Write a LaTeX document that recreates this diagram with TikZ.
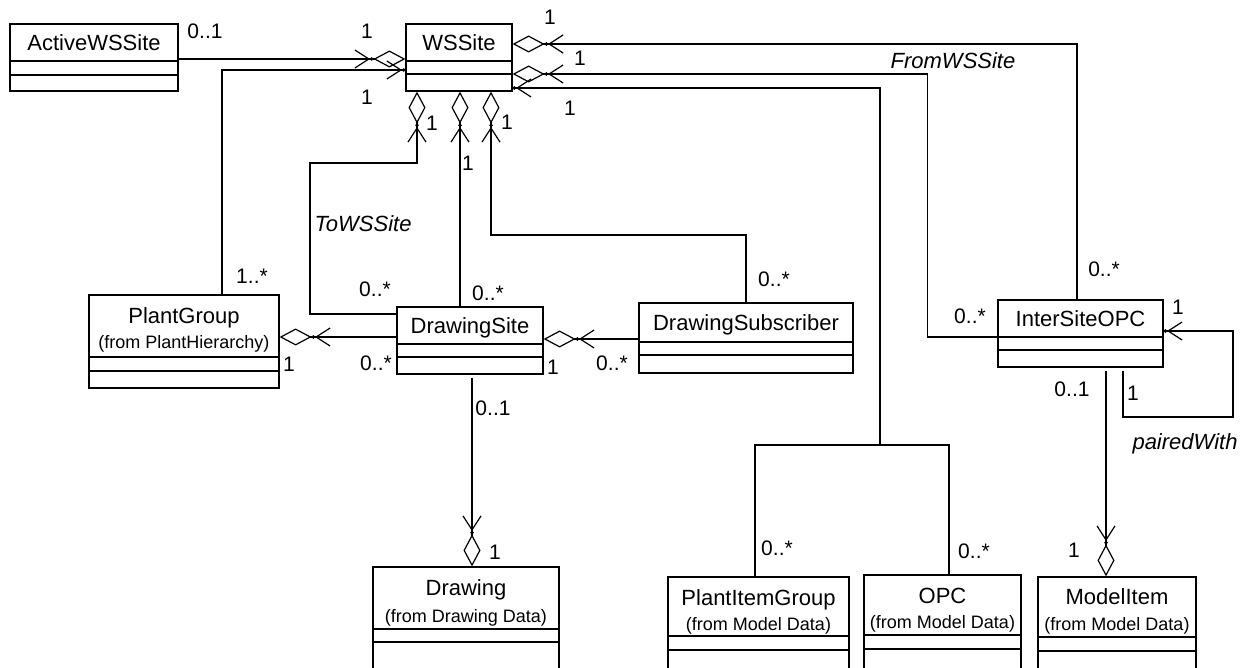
\documentclass[tikz,border=0pt]{standalone}
\usepackage{fontspec}
\setmainfont{Liberation Sans}
\usetikzlibrary{arrows.meta,fit}
\tikzset{
  cls/.style={draw, line width=1.2pt, inner sep=0pt},
  conn/.style={line width=1.2pt},
  agg/.style={conn, -{Straight Barb[length=14pt,width=18pt]Circle[length=3.4pt]Diamond[open,length=32pt,width=17pt]}},
  nav/.style={conn, -{Straight Barb[length=14pt,width=18pt]Circle[length=3.4pt]}},
  cname/.style={font=\fontsize{22}{26}\selectfont, inner sep=0pt, text height=15.8pt, text depth=0pt},
  csub/.style={font=\fontsize{18}{21}\selectfont, inner sep=0pt, text height=12.9pt, text depth=0pt},
  mult/.style={font=\fontsize{21}{24}\selectfont, inner sep=0pt, text height=15pt, text depth=0pt},
  role/.style={font=\fontsize{22}{26}\selectfont\itshape, inner sep=0pt, text height=15.8pt, text depth=0pt},
}
\newcommand\classdivs[3]{%
  \draw[conn] (#1.west |- 0,#2) -- (#1.east |- 0,#2);
  \draw[conn] (#1.west |- 0,#3) -- (#1.east |- 0,#3);}
\begin{document}
\begin{tikzpicture}[x=1pt,y=-1pt]
\useasboundingbox (0,0) rectangle (1251,668);
\fill[white] (0,0) rectangle (1251,668);
\clip (0,0) rectangle (1251,668);

% classes
\node[cls, fit={(10,24)(178,91)}] (ActiveWSSite) {};
\classdivs{ActiveWSSite}{61}{75}
\node[cname] (ActiveWSSite-name) at (94,42.5) {ActiveWSSite};

\node[cls, fit={(406,24)(512,91)}] (WSSite) {};
\classdivs{WSSite}{61}{74}
\node[cname] (WSSite-name) at (459,42.5) {WSSite};

\node[cls, fit={(89,295)(279,388)}] (PlantGroup) {};
\classdivs{PlantGroup}{357}{371}
\node[cname] (PlantGroup-name) at (184,316) {PlantGroup};
\node[csub] (PlantGroup-from) at (184,342) {(from PlantHierarchy)};

\node[cls, fit={(397,307)(543,374)}] (DrawingSite) {};
\classdivs{DrawingSite}{344}{357}
\node[cname] (DrawingSite-name) at (470,326) {DrawingSite};

\node[cls, fit={(639,303)(853,373)}] (DrawingSubscriber) {};
\classdivs{DrawingSubscriber}{342}{355}
\node[cname] (DrawingSubscriber-name) at (746,323) {DrawingSubscriber};

\node[cls, fit={(998,300)(1163,367)}] (InterSiteOPC) {};
\classdivs{InterSiteOPC}{337}{350}
\node[cname] (InterSiteOPC-name) at (1080.5,319) {InterSiteOPC};

\node[cls, fit={(373,567)(559,700)}] (Drawing) {};
\classdivs{Drawing}{629}{642}
\node[cname] (Drawing-name) at (466,588) {Drawing};
\node[csub] (Drawing-from) at (466,616) {(from Drawing Data)};

\node[cls, fit={(668,577)(849,700)}] (PlantItemGroup) {};
\classdivs{PlantItemGroup}{636}{650}
\node[cname] (PlantItemGroup-name) at (758.5,598) {PlantItemGroup};
\node[csub] (PlantItemGroup-from) at (758.5,624) {(from Model Data)};

\node[cls, fit={(864,575)(1021,700)}] (OPC) {};
\classdivs{OPC}{635}{649}
\node[cname] (OPC-name) at (942.5,596) {OPC};
\node[csub] (OPC-from) at (942.5,622.5) {(from Model Data)};

\node[cls, fit={(1038,577)(1196,700)}] (ModelItem) {};
\classdivs{ModelItem}{637}{651}
\node[cname] (ModelItem-name) at (1117,596.5) {ModelItem};
\node[csub] (ModelItem-from) at (1117,624) {(from Model Data)};

% connectors
\draw[agg] (ActiveWSSite.east |- 0,59) -- (WSSite.west |- 0,59);
\draw[nav] (PlantGroup.north -| 222,0) |- (WSSite.west |- 0,70);
\draw[agg] (InterSiteOPC.north -| 1077,0) |- (WSSite.east |- 0,44);
\draw[agg] (InterSiteOPC.west |- 0,337) -- ++(-70,0) |- (WSSite.east |- 0,74);
\coordinate (junction) at (880,445);
\draw[conn] (PlantItemGroup.north -| 755,0) |- (junction) -| (OPC.north -| 949,0);
\draw[nav] (junction) |- (WSSite.east |- 0,88);
\draw[agg] (DrawingSite.west |- 0,314) -| (310,163) -| (WSSite.south -| 417,0);
\draw[agg] (DrawingSite.north -| 460,0) -- (WSSite.south -| 460,0);
\draw[agg] (DrawingSubscriber.north -| 746,0) |- (491,235) -- (WSSite.south -| 491,0);
\draw[agg] (DrawingSite.west |- 0,337) -- (PlantGroup.east |- 0,337);
\draw[agg] (DrawingSubscriber.west |- 0,339) -- (DrawingSite.east |- 0,339);
\draw[agg, shorten <=3pt] (DrawingSite.south -| 472,0) -- (Drawing.north -| 472,0);
\draw[agg, shorten <=3pt] (InterSiteOPC.south -| 1106,0) -- (ModelItem.north -| 1106,0);
\draw[nav, shorten <=3pt] (InterSiteOPC.south -| 1123,0) |- (1233,417) |- (InterSiteOPC.east |- 0,331);

% multiplicities
\node[mult] (m1) at (205,31) {0..1};
\node[mult] (m2) at (367,31) {1};
\node[mult] (m3) at (367,97) {1};
\node[mult] (m4) at (252,276) {1..*};
\node[mult] (m5) at (550,17) {1};
\node[mult] (m6) at (580,58) {1};
\node[mult] (m7) at (570,108) {1};
\node[mult] (m8) at (1104,269) {0..*};
\node[mult] (m9) at (970,316) {0..*};
\node[mult] (m10) at (432,123) {1};
\node[mult] (m11) at (507,122) {1};
\node[mult] (m12) at (468,163) {1};
\node[mult] (m13) at (375,289) {0..*};
\node[mult] (m14) at (488,293) {0..*};
\node[mult] (m15) at (774,279) {0..*};
\node[mult] (m16) at (289,364) {1};
\node[mult] (m17) at (376,363) {0..*};
\node[mult] (m18) at (553,367) {1};
\node[mult] (m19) at (612,363) {0..*};
\node[mult] (m20) at (493,408) {0..1};
\node[mult] (m21) at (495,552) {1};
\node[mult] (m22) at (777,548) {0..*};
\node[mult] (m23) at (974,551) {0..*};
\node[mult] (m24) at (1072,389) {0..1};
\node[mult] (m25) at (1074,550) {1};
\node[mult] (m26) at (1178,307) {1};
\node[mult] (m27) at (1133,393) {1};

% role names
\node[role] (r1) at (953,61) {FromWSSite};
\node[role] (r2) at (363,224) {ToWSSite};
\node[role] (r3) at (1185,442) {pairedWith};
\end{tikzpicture}
\end{document}
